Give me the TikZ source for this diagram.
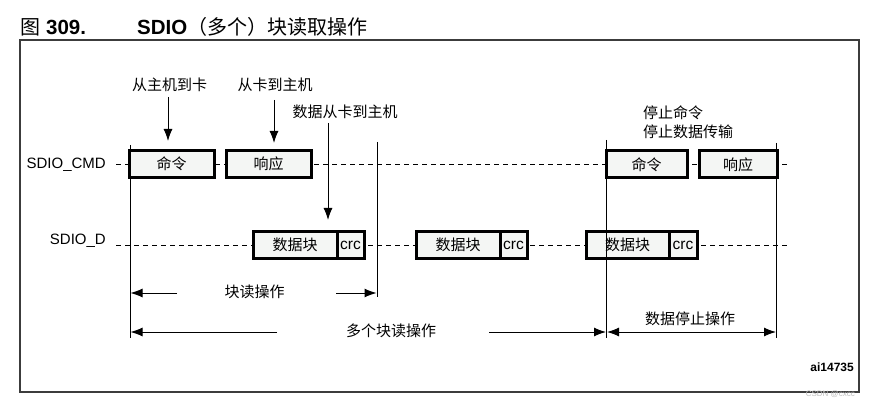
\documentclass[tikz,border=0pt]{standalone}
\usepackage{fontspec}
\setmainfont{Liberation Sans}
\newfontfamily\cjk{Noto Sans CJK SC}
\usetikzlibrary{arrows.meta}
\definecolor{boxfill}{RGB}{244,246,244}
\definecolor{framegray}{RGB}{60,60,60}
\begin{document}
\begin{tikzpicture}[x=1pt,y=-1pt,
  cjklab/.style={font=\cjk\fontsize{15}{17}\selectfont, inner sep=0pt},
  siglab/.style={font=\fontsize{15}{17}\selectfont, inner sep=0pt, anchor=east},
  blk/.style={draw, line width=3pt, fill=boxfill, inner sep=0pt, minimum height=27pt},
  crcbox/.style={blk, font=\fontsize{15.5}{17}\selectfont},
  dl/.style={dash pattern=on 5pt off 4pt, line width=0.8pt},
  vl/.style={line width=1pt},
  arr/.style={line width=1pt, -{Latex[length=12pt,width=9pt]}},
  darr/.style={line width=1pt, {Latex[length=12pt,width=9pt]}-{Latex[length=12pt,width=9pt]}},
]
\useasboundingbox (0,0) rectangle (875,406);
\fill[white] (0,0) rectangle (875,406);

% title
\node[anchor=base west, inner sep=0pt, font=\cjk\fontsize{20}{22}\selectfont] (tfig) at (20,35) {图};
\node[anchor=base west, inner sep=0pt, font=\bfseries\fontsize{20.5}{22}\selectfont] (tnum) at (46,35) {309.};
\node[anchor=base west, inner sep=0pt, font=\fontsize{20}{22}\selectfont] (tname) at (137,35) {\textbf{\fontsize{20.5}{22}\selectfont SDIO}{\cjk （多个）块读取操作}};

% frame
\draw[framegray, line width=1.3pt] (20,40) rectangle (859,392);

% signal labels
\node[siglab] (lcmd) at (106,165) {SDIO\_CMD};
\node[siglab] (ld) at (106,241) {SDIO\_D};

% dashed signal lines
\coordinate (cmdS) at (116,164);
\coordinate (cmdE) at (790,164);
\coordinate (dS) at (116,245);
\coordinate (dE) at (790,245);
\draw[dl] (cmdS) -- (cmdE);
\draw[dl] (dS) -- (dE);

% CMD boxes
\node[blk, cjklab, minimum width=85pt] (cmd1) at (171.5,164) {命令};
\node[blk, cjklab, minimum width=85pt] (rsp1) at (268.5,164) {响应};
\node[blk, cjklab, minimum width=81pt] (cmd2) at (646.5,164.5) {命令};
\node[blk, cjklab, minimum width=78pt] (rsp2) at (738,164.5) {响应};

% data boxes
\node[blk, cjklab, minimum width=84pt] (d1) at (295,245) {数据块};
\node[crcbox, minimum width=27pt] (c1) at (350.5,245) {crc};
\node[blk, cjklab, minimum width=84pt] (d2) at (458,245) {数据块};
\node[crcbox, minimum width=27pt] (c2) at (513.5,245) {crc};
\node[blk, cjklab, minimum width=83pt] (d3) at (627.5,245) {数据块};
\node[crcbox, minimum width=28pt] (c3) at (683,245) {crc};

% vertical marker lines
\coordinate (v1t) at (130,145); \coordinate (v1b) at (130,338);
\coordinate (v2t) at (377,142); \coordinate (v2b) at (377,297);
\coordinate (v3t) at (606.5,140); \coordinate (v3b) at (606.5,338);
\coordinate (v4t) at (776,143); \coordinate (v4b) at (776,338);
\draw[vl] (v1t) -- (v1b);
\draw[vl] (v2t) -- (v2b);
\draw[vl] (v3t) -- (v3b);
\draw[vl] (v4t) -- (v4b);

% top annotations
\node[cjklab] (hostcard) at (169.5,85) {从主机到卡};
\node[cjklab] (cardhost) at (275,85) {从卡到主机};
\node[cjklab] (datacard) at (345,112) {数据从卡到主机};
\node[cjklab, anchor=west] (stop1) at (643,113) {停止命令};
\node[cjklab, anchor=west] (stop2) at (643,132) {停止数据传输};

\coordinate (a1s) at (168,97); \coordinate (a1e) at (168,141);
\coordinate (a2s) at (274,100); \coordinate (a2e) at (274,143);
\coordinate (a3s) at (328,123); \coordinate (a3e) at (328,220);
\draw[arr] (a1s) -- (a1e);
\draw[arr] (a2s) -- (a2e);
\draw[arr] (a3s) -- (a3e);

% bottom measurement arrows
\node[cjklab] (blkread) at (254.5,292) {块读操作};
\coordinate (b1s) at (177,293); \coordinate (b1e) at (130.5,293);
\coordinate (b2s) at (336,293); \coordinate (b2e) at (376.5,293);
\draw[arr] (b1s) -- (b1e);
\draw[arr] (b2s) -- (b2e);

\node[cjklab] (multiread) at (391,331) {多个块读操作};
\coordinate (m1s) at (277,332); \coordinate (m1e) at (130.5,332);
\coordinate (m2s) at (489,332); \coordinate (m2e) at (606,332);
\draw[arr] (m1s) -- (m1e);
\draw[arr] (m2s) -- (m2e);

\node[cjklab] (datastop) at (690,319) {数据停止操作};
\coordinate (s1) at (607,332); \coordinate (s2) at (776,332);
\draw[darr] (s1) -- (s2);

% figure id
\node[anchor=east, inner sep=0pt, font=\bfseries\fontsize{12}{14}\selectfont] (fid) at (854,367) {ai14735};
\node[anchor=east, inner sep=0pt, font=\fontsize{8}{9}\selectfont, text=black!25] (wm) at (855,394) {CSDN @cxcc};
\end{tikzpicture}
\end{document}
